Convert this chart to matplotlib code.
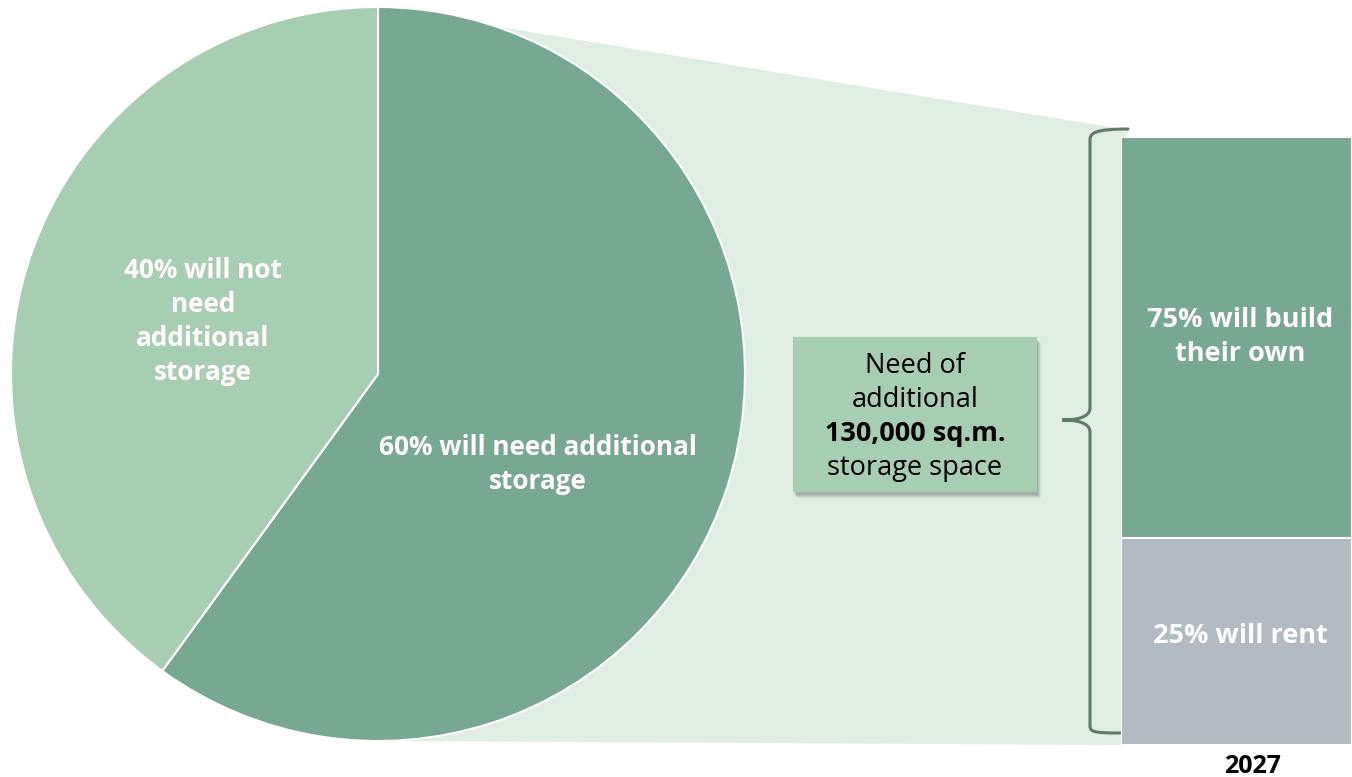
import matplotlib.pyplot as plt
from matplotlib.path import Path
from matplotlib.patches import PathPatch, Polygon, Rectangle

plt.rcParams['font.family'] = ['Open Sans', 'DejaVu Sans']

# pie: share of companies needing extra storage
pie_labels = [['60% will need additional', 'storage'],
              ['40% will not', 'need', 'additional', 'storage']]
pie_values = [60, 40]
pie_colors = ['#78a892', '#a7cdb3']

# bar: how the additional storage is obtained (2027)
bar_labels = [['25% will rent'], ['75% will build', 'their own']]
bar_heights = [34, 66]  # drawn heights
bar_colors = ['#b1bbc1', '#78a892']
bar_year = '2027'

box_lines = ['Need of', 'additional', '130,000 sq.m.', 'storage space']

W, H = 1352, 777
fig = plt.figure(figsize=(W / 100, H / 100), dpi=100)
ax = fig.add_axes([0, 0, 1, 1])


def py(y):
    # pixel row -> data y
    return H - y


def lines_at(target, x, yc, lines, pitch=34, **kw):
    # stack lines centred on pixel row yc
    n = len(lines)
    for i, s in enumerate(lines):
        yy = yc + (i - (n - 1) / 2) * pitch
        target.text(x, py(yy + 9), s, ha='center', va='baseline',
                    transform=ax.transData, **kw)


# connecting band behind everything
band = Polygon([(378, py(7)), (1128, py(130)), (1128, py(135)), (1121, py(137)),
                (1121, py(745)), (378, py(741))], closed=True,
               facecolor='#dfede3', edgecolor='none', zorder=0)
ax.add_patch(band)

cx, cy, r = 378, py(374), 367
ax.pie(pie_values, colors=pie_colors, startangle=90, counterclock=False,
       center=(cx, cy), radius=r, frame=True,
       wedgeprops=dict(edgecolor='white', linewidth=1.5))
ax.set_xlim(0, W)
ax.set_ylim(0, H)
ax.set_aspect('equal')
ax.axis('off')

lab_kw = dict(color='white', fontsize=18.8, fontweight='bold', zorder=5)
lines_at(ax, 538, 463, pie_labels[0], **lab_kw)
lines_at(ax, 203, 320, pie_labels[1], **lab_kw)

# text box with soft shadow
for k, a in enumerate([0.10, 0.10, 0.12, 0.15]):
    off = 6 - k
    ax.add_patch(Rectangle((793 + off - 2, py(492 + off)), 244, 155, facecolor='#4a5a50',
                           alpha=a, edgecolor='none', zorder=2))
ax.add_patch(Rectangle((793, py(492)), 244, 155, facecolor='#a7cdb3',
                       edgecolor='none', zorder=3))
for i, line in enumerate(box_lines):
    yy = 364 + 34 * i
    ax.text(915, py(yy + 9), line, ha='center', va='baseline', fontsize=19.5,
            color='black', fontweight='bold' if i == 2 else 'normal', zorder=4)

# curly bracket
verts = [(1128, py(129)), (1095, py(129)), (1090, py(133)), (1090, py(140)),
         (1090, py(408)),
         (1090, py(418)), (1075, py(420)), (1062, py(420)),
         (1075, py(420)), (1090, py(422)), (1090, py(432)),
         (1090, py(726)),
         (1090, py(732)), (1095, py(733)), (1120, py(733))]
codes = [Path.MOVETO, Path.CURVE4, Path.CURVE4, Path.CURVE4,
         Path.LINETO,
         Path.CURVE4, Path.CURVE4, Path.CURVE4,
         Path.CURVE4, Path.CURVE4, Path.CURVE4,
         Path.LINETO,
         Path.CURVE4, Path.CURVE4, Path.CURVE4]
ax.add_patch(PathPatch(Path(verts, codes), facecolor='none', edgecolor='#5f7a6b',
                       linewidth=2.2, capstyle='round', zorder=3))

# stacked bar
bax = fig.add_axes([1121 / W, (H - 745) / H, 231 / W, 608 / H])
bax.set_xlim(-0.5, 0.5)
bax.set_ylim(0, sum(bar_heights))
bax.axis('off')
bottom = 0
for h, c in zip(bar_heights, bar_colors):
    bax.bar(0, h, bottom=bottom, width=1.0, color=c, edgecolor='white', linewidth=1.5)
    bottom += h

lab_kw_bar = dict(lab_kw, fontsize=19.5)
lines_at(bax, 1240, 634, bar_labels[0], **lab_kw_bar)
lines_at(bax, 1240, 335, bar_labels[1], **lab_kw_bar)

ax.text(1252, py(773), bar_year, ha='center', va='baseline', fontsize=18,
        fontweight='bold', color='black')

fig.savefig('out.png', dpi=100)
